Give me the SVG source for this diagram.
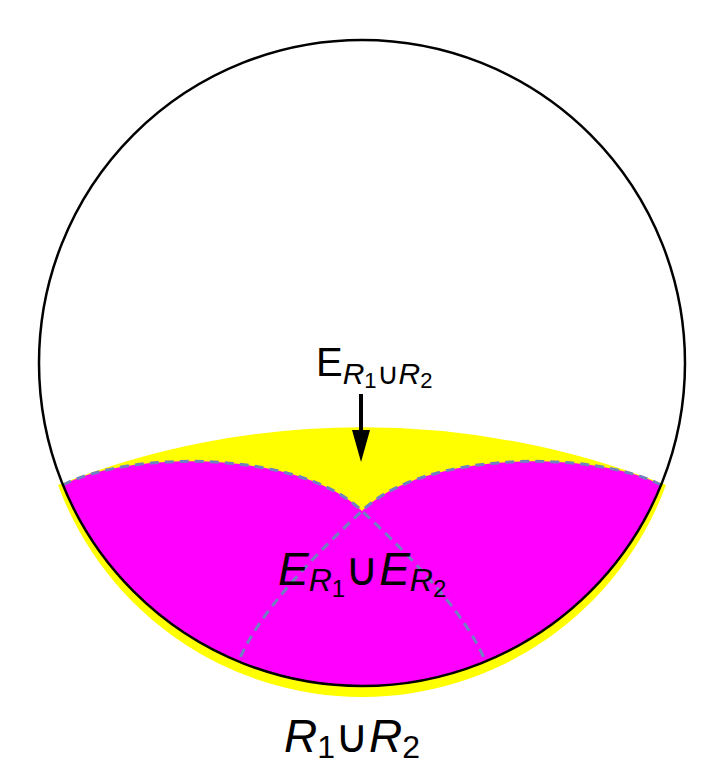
<svg xmlns="http://www.w3.org/2000/svg" width="720" height="774" viewBox="0 0 720 774">
<style>
text{font-family:"Liberation Sans",Arial,sans-serif;fill:#000}
.i{font-style:italic}
.dash{fill:none;stroke:#7080c0;stroke-width:3;stroke-dasharray:9 6}
</style>
<rect width="720" height="774" fill="#fff"/>
<g id="yellow"><path d="M58,485 A830 830 0 0 1 666,485 A324 324 0 0 1 58,485 Z" fill="#ffff00"/></g>
<g id="magenta"><path d="M63,485 C130,450 300,450 362,511 C424,450 594,450 661,485 A323 323 0 0 1 63,485 Z" fill="#ff00ff"/></g>
<g id="connectors">
<path class="dash" d="M63,485 C130,450 300,450 362,511 C420,565 465,615 484,658"/>
<path class="dash" d="M661,485 C594,450 424,450 362,511 C304,565 259,615 240,658"/>
<line x1="361" y1="394" x2="361" y2="435" stroke="#000" stroke-width="4"/>
<polygon points="352,430 370,430 361,462" fill="#000"/>
</g>
<g id="circle"><circle cx="362" cy="363" r="323" fill="none" stroke="#000" stroke-width="2.5"/></g>
<g id="label-top"><text x="316" y="376" font-size="40">E<tspan class="i" font-size="30" dy="8">R</tspan><tspan font-size="22" dy="4">1</tspan><tspan font-size="30" dy="-4">∪</tspan><tspan class="i" font-size="30">R</tspan><tspan font-size="22" dy="4">2</tspan></text></g>
<g id="label-mid"><text x="278" y="585" font-size="46"><tspan class="i">E</tspan><tspan class="i" font-size="32" dy="6">R</tspan><tspan font-size="24" dy="6">1</tspan><tspan font-size="46" dy="-12">∪</tspan><tspan class="i">E</tspan><tspan class="i" font-size="32" dy="6">R</tspan><tspan font-size="24" dy="6">2</tspan></text></g>
<g id="label-bottom"><text x="284" y="752" font-size="46"><tspan class="i">R</tspan><tspan font-size="32" dy="6">1</tspan><tspan dy="-6">∪</tspan><tspan class="i">R</tspan><tspan font-size="32" dy="6">2</tspan></text></g>
</svg>
